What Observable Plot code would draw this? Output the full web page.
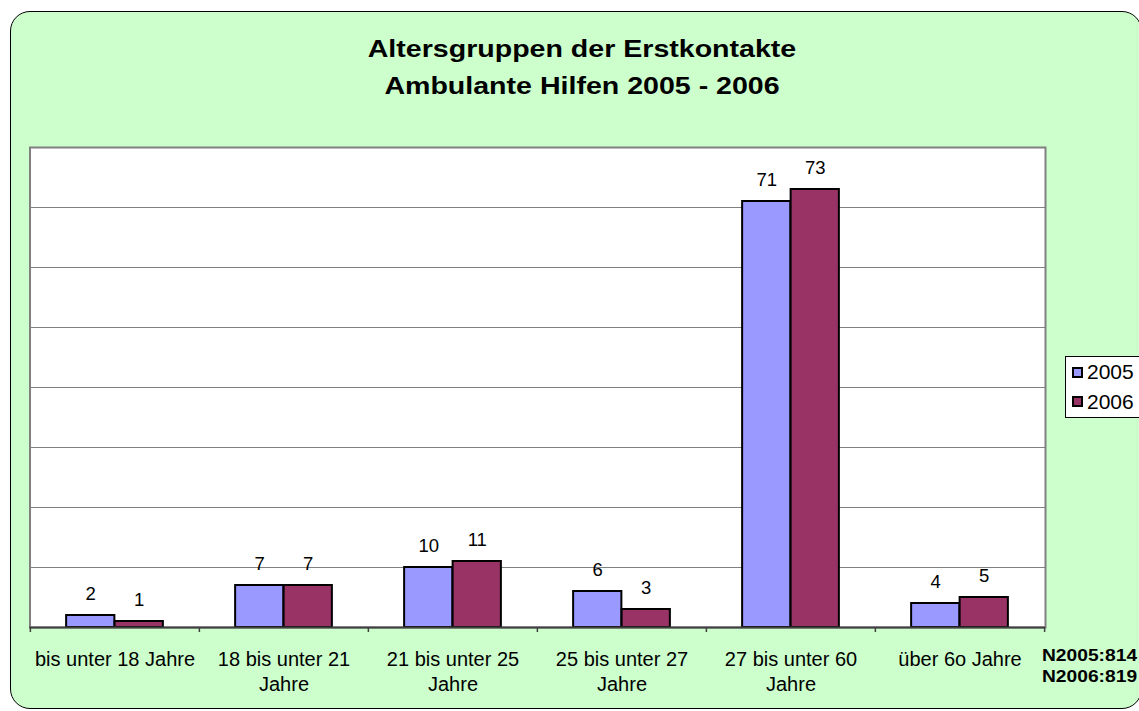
<!DOCTYPE html>
<html>
<head>
<meta charset="utf-8">
<script src="https://cdn.jsdelivr.net/npm/d3@7"></script>
<script src="https://cdn.jsdelivr.net/npm/@observablehq/plot@0.6"></script>
<style>
  html, body { margin: 0; padding: 0; background: #ffffff; }
  #wrap { position: relative; width: 1139px; height: 711px; overflow: hidden; font-family: Arial, "Liberation Sans", sans-serif; }
  #bg { position: absolute; left: 10px; top: 11px; width: 1132px; height: 698px; box-sizing: border-box;
        background: #CCFFCC; border: 1px solid #000; border-radius: 20px; }
  #title { position: absolute; left: 0; top: 30px; width: 1164px; text-align: center; font-weight: bold;
           font-size: 24px; line-height: 37px; transform-origin: 582px 0; transform: scaleX(1.19); color: #000; }
  #chart { position: absolute; left: 0; top: 0; }
  #legend { position: absolute; left: 1065px; top: 356px; width: 90px; height: 62px; box-sizing: border-box;
            background: #fff; border: 1px solid #000; }
  .li { position: absolute; left: 21px; font-size: 21px; line-height: 30px; height: 30px; }
  .sw { position: absolute; left: 6px; width: 11px; height: 11px; box-sizing: border-box; border: 2px solid #000; }
  #ntext { position: absolute; left: 1042px; top: 645px; font-weight: bold; font-size: 16.3px; line-height: 20.7px;
           transform-origin: 0 0; transform: scaleX(1.18); white-space: nowrap; }
</style>
</head>
<body>
<div id="wrap">
  <div id="bg"></div>
  <div id="title"></div>
  <div id="chart"></div>
  <div id="legend"></div>
  <div id="ntext"></div>
</div>
<script>
// ---- data ----
const titleLines = ["Altersgruppen der Erstkontakte", "Ambulante Hilfen 2005 - 2006"];
const categories = ["bis unter 18 Jahre", "18 bis unter 21\nJahre", "21 bis unter 25\nJahre",
                    "25 bis unter 27\nJahre", "27 bis unter 60\nJahre", "über 6o Jahre"];
const years = ["2005", "2006"];
const values2005 = [2, 7, 10, 6, 71, 4];
const values2006 = [1, 7, 11, 3, 73, 5];
const gridTicks = [10, 20, 30, 40, 50, 60, 70];
const yMax = 80;
const seriesColors = ["#9999FF", "#993366"];
const notes = ["N2005:814", "N2006:819"];

// ---- layout ----
const W = 1139, H = 711;
const mL = 29.5, mR = 94, mT = 147, mB = 84;
const band = (W - mL - mR) / categories.length;
const barW = 48.5;

const rows = categories.flatMap((c, i) =>
  years.map((y, j) => ({category: c, year: y, value: [values2005, values2006][j][i]})));
const r2005 = rows.filter(d => d.year === years[0]);
const r2006 = rows.filter(d => d.year === years[1]);

document.getElementById("title").innerHTML = titleLines.map(t => `<div>${t}</div>`).join("");

const chart = Plot.plot({
  width: W, height: H,
  marginLeft: mL, marginRight: mR, marginTop: mT, marginBottom: mB,
  style: {background: "none", fontFamily: "Arial, 'Liberation Sans', sans-serif", color: "#000"},
  x: {type: "band", domain: categories, padding: 0, axis: null},
  y: {domain: [0, yMax], axis: null},
  marks: [
    Plot.frame({fill: "white", stroke: "#808080", strokeWidth: 2}),
    Plot.ruleY(gridTicks, {stroke: "#808080", strokeWidth: 1.2}),
    Plot.barY(r2005, {x: "category", y: "value", fill: seriesColors[0], stroke: "#000", strokeWidth: 2,
      insetLeft: band / 2 - barW, insetRight: band / 2}),
    Plot.barY(r2006, {x: "category", y: "value", fill: seriesColors[1], stroke: "#000", strokeWidth: 2,
      insetLeft: band / 2, insetRight: band / 2 - barW}),
    Plot.text(r2005, {x: "category", y: "value", text: d => String(d.value), dx: -barW / 2, dy: -16,
      lineAnchor: "bottom", fontSize: 18.5, fill: "#000"}),
    Plot.text(r2006, {x: "category", y: "value", text: d => String(d.value), dx: barW / 2, dy: -16,
      lineAnchor: "bottom", fontSize: 18.5, fill: "#000"}),
    Plot.ruleY([0], {stroke: "#404040", strokeWidth: 2}),
    Plot.ruleX(categories, {x: d => d, dx: -band / 2, insetTop: 475, dy: 5, stroke: "#404040", strokeWidth: 1.5}),
    Plot.ruleX(categories.slice(-1), {x: d => d, dx: band / 2, insetTop: 475, dy: 5, stroke: "#404040", strokeWidth: 1.5}),
    Plot.text(categories, {x: d => d, frameAnchor: "bottom", lineAnchor: "top", dy: 21,
      fontSize: 20, lineHeight: 1.235, fill: "#000"})
  ]
});
document.getElementById("chart").appendChild(chart);

// legend
const legend = document.getElementById("legend");
years.forEach((y, i) => {
  const sw = document.createElement("div");
  sw.className = "sw";
  sw.style.top = (10 + i * 29) + "px";
  sw.style.background = seriesColors[i];
  legend.appendChild(sw);
  const t = document.createElement("div");
  t.className = "li";
  t.style.top = (i * 30) + "px";
  t.textContent = y;
  legend.appendChild(t);
});

document.getElementById("ntext").innerHTML = notes.map(n => `<div>${n}</div>`).join("");
</script>
</body>
</html>
